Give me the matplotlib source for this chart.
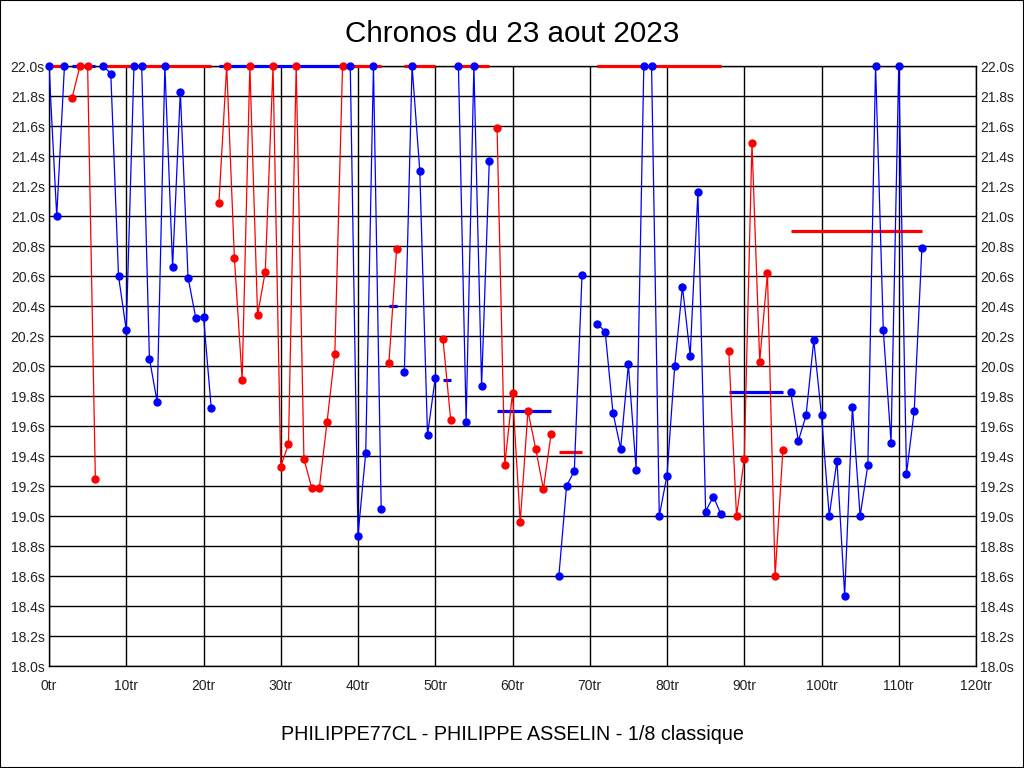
import matplotlib
matplotlib.use('Agg')
import matplotlib.pyplot as plt
from matplotlib.patches import Rectangle

plt.rcParams['font.family'] = ['Liberation Sans', 'DejaVu Sans']

# one entry per stint: first lap, lap times (clipped at 22.0s), point colour, average line
seg_start = [0, 3, 7, 22, 39, 44, 46, 51, 53, 58, 66, 71, 88, 96]
seg_times = [
    [22.0, 21.0, 22.0],
    [21.79, 22.0, 22.0, 19.25],
    [22.0, 21.95, 20.6, 20.24, 22.0, 22.0, 20.05, 19.76, 22.0, 20.66, 21.83, 20.59, 20.32, 20.33, 19.72],
    [21.09, 22.0, 20.72, 19.91, 22.0, 20.34, 20.63, 22.0, 19.33, 19.48, 22.0, 19.38, 19.19, 19.19, 19.63, 20.08, 22.0],
    [22.0, 18.87, 19.42, 22.0, 19.05],
    [20.02, 20.78],
    [19.96, 22.0, 21.3, 19.54, 19.92],
    [20.18, 19.64],
    [22.0, 19.63, 22.0, 19.87, 21.37],
    [21.59, 19.34, 19.82, 18.96, 19.70, 19.45, 19.18, 19.55],
    [18.6, 19.2, 19.3, 20.61],
    [20.28, 20.23, 19.69, 19.45, 20.01, 19.31, 22.0, 22.0, 19.0, 19.27, 20.0, 20.53, 20.07, 21.16, 19.03, 19.13, 19.01],
    [20.1, 19.0, 19.38, 21.49, 20.03, 20.62, 18.6, 19.44],
    [19.83, 19.5, 19.67, 20.17, 19.67, 19.0, 19.37, 18.47, 19.73, 19.0, 19.34, 22.0, 20.24, 19.49, 22.0, 19.28, 19.70, 20.79],
]
seg_colors = ['blue', 'red', 'blue', 'red', 'blue', 'red', 'blue', 'red', 'blue', 'red', 'blue', 'blue', 'red', 'blue']
seg_avg = [22.0, 22.0, 22.0, 22.0, 22.0, 20.4, 22.0, 19.91, 22.0, 19.70, 19.43, 22.0, 19.83, 20.9]

x_ticks = list(range(0, 121, 10))
x_labels = [f"{t}tr" for t in x_ticks]
y_ticks = [18.0 + 0.2 * i for i in range(21)]
y_labels = [f"{t:.1f}s" for t in y_ticks]

fig = plt.figure(figsize=(10.24, 7.68), dpi=100)
ax = fig.add_axes([49 / 1024, 102 / 768, 927 / 1024, 600 / 768])

for start, times, col, avg in zip(seg_start, seg_times, seg_colors, seg_avg):
    laps = list(range(start, start + len(times)))
    other = 'red' if col == 'blue' else 'blue'
    # average of the stint, drawn in the other colour
    ax.plot([laps[0], laps[-1]], [avg, avg], color=other, lw=2.3, solid_capstyle='butt',
            clip_on=False, zorder=3)
    ax.plot(laps, times, color=col, lw=0.9, zorder=4)
    ax.plot(laps, times, 'o', color=col, ms=5, clip_on=False, zorder=5)

ax.set_xlim(0, 120)
ax.set_ylim(18.0, 22.0)
ax.set_xticks(x_ticks)
ax.set_xticklabels(x_labels)
ax.set_yticks(y_ticks)
ax.set_yticklabels(y_labels)
ax.tick_params(length=0, labelsize=10, colors='#222222')
ax.tick_params(axis='x', pad=9)
ax.tick_params(axis='y', labelright=True, pad=3)
ax.grid(True, color='black', lw=1)
ax.set_axisbelow(True)
for sp in ax.spines.values():
    sp.set_linewidth(1)

fig.text(0.5, 1 - 34 / 768, 'Chronos du 23 aout 2023', ha='center', va='center', fontsize=21.3)
fig.text(0.5, 1 - 735 / 768, 'PHILIPPE77CL - PHILIPPE ASSELIN - 1/8 classique',
         ha='center', va='center', fontsize=14.2)

fig.patches.append(Rectangle((0, 0), 1, 1, transform=fig.transFigure, fill=False,
                             edgecolor='black', lw=1.5))

plt.savefig('out.png', dpi=100)
